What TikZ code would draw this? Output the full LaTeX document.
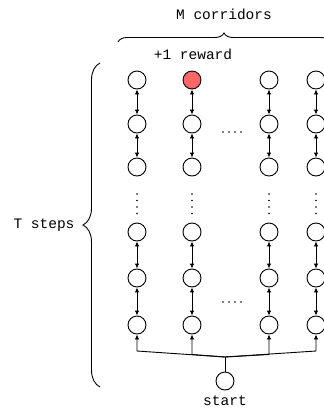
\documentclass[tikz,border=0pt]{standalone}
\usepackage{fontspec}
\setmonofont{Liberation Mono}
\usetikzlibrary{arrows.meta,decorations.pathreplacing}
\definecolor{redfill}{HTML}{FF6666}
\begin{document}
\begin{tikzpicture}[x=1pt,y=-1pt,
  state/.style={circle,draw,line width=0.9pt,minimum size=18pt,inner sep=0pt},
  link/.style={{Latex[length=5pt,width=4.5pt]}-{Latex[length=5pt,width=4.5pt]},line width=0.9pt},
  branch/.style={line width=0.9pt},
  lbl/.style={font=\ttfamily\fontsize{14.5}{16}\selectfont,inner sep=0pt},
  bracestyle/.style={decorate,line width=0.9pt}]
\useasboundingbox (0,0) rectangle (324,408);
% nodes
\foreach \c/\x in {1/137,2/192,3/269,4/316}{
  \foreach \r/\y in {2/124,3/167,4/232,5/278,6/325}{
    \node[state] (c\c r\r) at (\x,\y) {};
  }
}
\node[state] (c1r1) at (137,80) {};
\node[state,fill=redfill] (c2r1) at (192,80) {};
\node[state] (c3r1) at (269,80) {};
\node[state] (c4r1) at (316,80) {};
% links
\foreach \c in {1,...,4}{
  \draw[link] (c\c r1) -- (c\c r2);
  \draw[link] (c\c r2) -- (c\c r3);
  \draw[link] (c\c r4) -- (c\c r5);
  \draw[link] (c\c r5) -- (c\c r6);
}
% vertical dots
\foreach \x in {137,192,269,316}{
  \foreach \y in {194,200.5,207,213.5}{
    \fill (\x,\y) circle (0.9pt);
  }
}
% horizontal dots
\foreach \x in {223,229,235,241}{
  \fill (\x,132) circle (0.9pt);
  \fill (\x,302) circle (0.9pt);
}
% start
\node[state] (s) at (225,381) {};
\node[lbl] (startlbl) at (225,401) {start};
\coordinate (j) at (225,357);
\coordinate (b1) at (137,351);
\coordinate (b2) at (192,354.5);
\coordinate (b3) at (269,354.5);
\coordinate (b4) at (316,351);
\draw[branch] (s) -- (j);
\foreach \c in {1,...,4}{
  \draw[branch,-{Latex[length=5pt,width=4.5pt]}] (j) -- (b\c) -- (c\c r6);
}
% labels
\node[lbl] (mlbl) at (224,14) {M corridors};
\node[lbl] (rlbl) at (193,54) {+1 reward};
\node[lbl] (tlbl) at (44,225) {T steps};
% braces
\draw[bracestyle,decoration={brace,amplitude=17pt}] (100,387) -- (100,63);
\draw[bracestyle,decoration={brace,amplitude=9pt}] (118,42) -- (330,42);
\end{tikzpicture}
\end{document}
